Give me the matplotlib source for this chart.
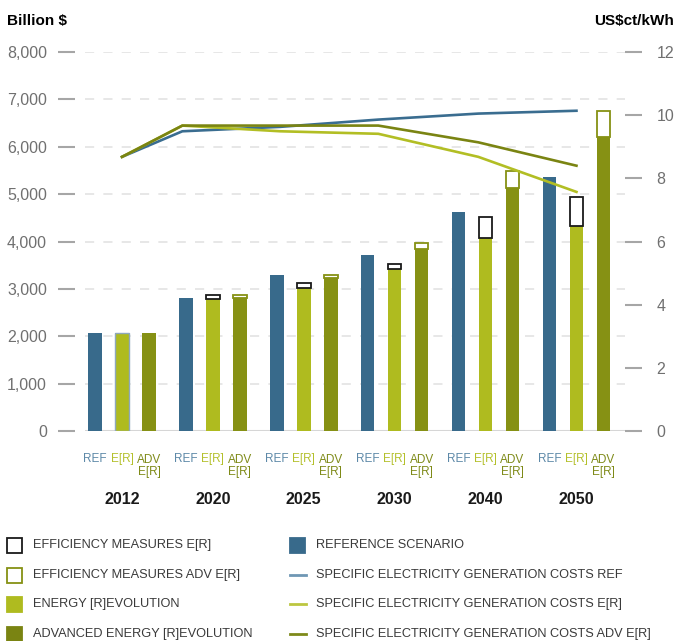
import matplotlib.pyplot as plt
from matplotlib.patches import Rectangle
from matplotlib.lines import Line2D
import numpy as np

plt.rcParams['font.family'] = ['Liberation Sans', 'DejaVu Sans']

years = ['2012', '2020', '2025', '2030', '2040', '2050']
# investment, billion $
ref = [2070, 2800, 3300, 3720, 4630, 5360]
er = [2070, 2790, 3020, 3410, 4070, 4320]
er_eff = [0, 80, 100, 120, 440, 610]
adv = [2070, 2810, 3230, 3840, 5120, 6210]
adv_eff = [0, 60, 70, 120, 360, 550]
# generation costs, US$ct/kWh
cost_x = [0, 0.664, 1.74, 2.82, 3.92, 5.0]
ref_cost = [8.68, 9.49, 9.63, 9.86, 10.05, 10.14]
er_cost = [8.68, 9.67, 9.49, 9.41, 8.68, 7.57]
adv_cost = [8.68, 9.67, 9.67, 9.67, 9.14, 8.40]

C_REF = '#386a8b'
C_ER = '#afbb1f'
C_ADV = '#869114'
C_ADV_DARK = '#7a8412'
W, H = 676, 641


def fx(x):
    return x / W


def fy(y):
    return 1 - y / H


fig = plt.figure(figsize=(6.76, 6.41), dpi=100)
ax = fig.add_axes([fx(85), fy(431), (625 - 85) / W, (431 - 52) / H])

x = np.arange(len(years))
off, bw = 0.297, 0.15
ax.bar(x - off, ref, bw, color=C_REF, zorder=2)
ax.bar(x, er, bw, color=C_ER, zorder=2)
ax.bar(x[0], er[0], bw, color=C_ER, edgecolor='#8ea8bc', lw=1, zorder=2)
ax.bar(x + off, adv, bw, color=C_ADV, zorder=2)

# efficiency boxes only where there is a saving
has = np.array(er_eff) > 0
ax.bar(x[has], np.array(er_eff)[has], bw, bottom=np.array(er)[has], color='white',
       edgecolor='#1a1a1a', lw=1.3, zorder=3)
has = np.array(adv_eff) > 0
ax.bar(x[has] + off, np.array(adv_eff)[has], bw, bottom=np.array(adv)[has], color='white',
       edgecolor=C_ADV, lw=1.3, zorder=3)

ax.set_xlim(-0.407, 5.534)
ax.set_ylim(0, 8000)
ax.set_yticks(range(0, 8001, 1000))
ax.set_yticklabels([f'{v:,}' for v in range(0, 8001, 1000)])
ax.set_xticks([])
for s in ax.spines.values():
    s.set_visible(False)
ax.spines['left'].set_position(('outward', 7.2))
ax.tick_params(axis='y', length=12.2, width=1.5, color='#a6a6a6', pad=8,
               labelsize=11.5, labelcolor='#707070')
ax.set_axisbelow(True)
ax.yaxis.grid(True, color='#e3e3e3', lw=1.2, ls=(0, (5.5, 5.5)))
ax.axhline(0, color='#d6d6d6', lw=1.5, zorder=1)

ax2 = ax.twinx()
ax2.set_ylim(0, 12)
ax2.set_yticks(range(0, 13, 2))
for s in ax2.spines.values():
    s.set_visible(False)
ax2.tick_params(axis='y', length=12.2, width=1.5, color='#a6a6a6', pad=10.5,
                labelsize=11.5, labelcolor='#707070')
ax2.plot(cost_x, ref_cost, color='#3a6d90', lw=1.9, zorder=4)
ax2.plot(cost_x, er_cost, color='#b2be24', lw=1.9, zorder=4)
ax2.plot(cost_x, adv_cost, color=C_ADV_DARK, lw=1.9, zorder=4)

# bar labels and years under the axis
for i, yr in enumerate(years):
    ax.annotate('REF', (i - off, 0), xytext=(i - off, H - 459), xycoords='data',
                textcoords=('data', 'figure pixels'), ha='center', va='center',
                fontsize=8.5, color='#5d89a8')
    ax.annotate('E[R]', (i, 0), xytext=(i, H - 459), xycoords='data',
                textcoords=('data', 'figure pixels'), ha='center', va='center',
                fontsize=8.5, color='#b4c02c')
    ax.annotate('ADV\nE[R]', (i + off, 0), xytext=(i + off, H - 466), xycoords='data',
                textcoords=('data', 'figure pixels'), ha='center', va='center',
                fontsize=8.5, color='#7e8a18', linespacing=1.1)
    ax.annotate(yr, (i, 0), xytext=(i, H - 500), xycoords='data',
                textcoords=('data', 'figure pixels'), ha='center', va='center',
                fontsize=11.5, fontweight='bold', color='#1a1a1a')

fig.text(fx(7), fy(21), 'Billion $', fontsize=11, fontweight='bold', va='center', ha='left')
fig.text(fx(674), fy(21), 'US$ct/kWh', fontsize=11, fontweight='bold', va='center', ha='right')

# legend
rows = [545, 575, 604, 634]
left_items = [
    ('box', 'white', '#1a1a1a', 'EFFICIENCY MEASURES E[R]'),
    ('box', 'white', C_ADV, 'EFFICIENCY MEASURES ADV E[R]'),
    ('box', C_ER, C_ER, 'ENERGY [R]EVOLUTION'),
    ('box', C_ADV_DARK, C_ADV_DARK, 'ADVANCED ENERGY [R]EVOLUTION'),
]
right_items = [
    ('box', C_REF, C_REF, 'REFERENCE SCENARIO'),
    ('line', '#6f97b4', None, 'SPECIFIC ELECTRICITY GENERATION COSTS REF'),
    ('line', '#bcc640', None, 'SPECIFIC ELECTRICITY GENERATION COSTS E[R]'),
    ('line', '#7e8a1a', None, 'SPECIFIC ELECTRICITY GENERATION COSTS ADV E[R]'),
]
for items, mx, tx in ((left_items, 7, 33), (right_items, 290, 316)):
    for (kind, fc, ec, label), yc in zip(items, rows):
        if kind == 'box':
            fig.add_artist(Rectangle((fx(mx), fy(yc + 7.5)), 15 / W, 15 / H,
                                     transform=fig.transFigure, facecolor=fc,
                                     edgecolor=ec, lw=1.3))
        else:
            fig.add_artist(Line2D([fx(mx), fx(mx + 16)], [fy(yc), fy(yc)],
                                  transform=fig.transFigure, color=fc, lw=2))
        fig.text(fx(tx), fy(yc), label, fontsize=9.2, color='#3a3a3a', va='center', ha='left')

fig.savefig('out.png', dpi=100)
